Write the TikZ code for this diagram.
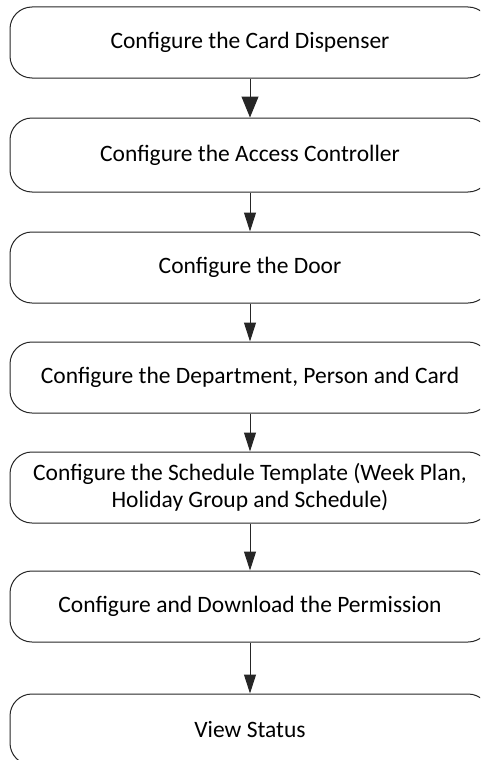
\documentclass[tikz,border=0pt]{standalone}
\usepackage{fontspec}
\setmainfont{Carlito}
\usetikzlibrary{arrows.meta}
\tikzset{
  stepbox/.style={draw=black!85, line width=1pt, rounded corners=22pt, minimum width=480pt, minimum height=71pt, align=center, inner sep=0pt, font=\fontsize{23.5}{27.5}\selectfont},
  flowarrow/.style={draw=black!85, line width=1pt, -{Triangle[length=19pt,width=12pt]}},
  bigarrow/.style={draw=black!85, line width=1pt, -{Triangle[length=21pt,width=17pt]}}
}
\begin{document}
\begin{tikzpicture}[x=1pt,y=-1pt]
\useasboundingbox (0,0) rectangle (480,760);
\clip (0,0) rectangle (480,760);
\node[stepbox] (s1) at (250,42.5) {Configure the Card Dispenser};
\node[stepbox, minimum height=74pt] (s2) at (250,155) {Configure the Access Controller};
\node[stepbox] (s3) at (250,267.5) {Configure the Door};
\node[stepbox] (s4) at (250,377.5) {Configure the Department, Person and Card};
\node[stepbox] (s5) at (250,487.5) {Configure the Schedule Template (Week Plan,\\Holiday Group and Schedule)};
\node[stepbox] (s6) at (250,606.5) {Configure and Download the Permission};
\node[stepbox] (s7) at (250,729.5) {View Status};
\draw[bigarrow] (s1) -- (s2);
\draw[flowarrow] (s2) -- (s3);
\draw[flowarrow] (s3) -- (s4);
\draw[flowarrow] (s4) -- (s5);
\draw[flowarrow] (s5) -- (s6);
\draw[flowarrow] (s6) -- (s7);
\end{tikzpicture}
\end{document}
